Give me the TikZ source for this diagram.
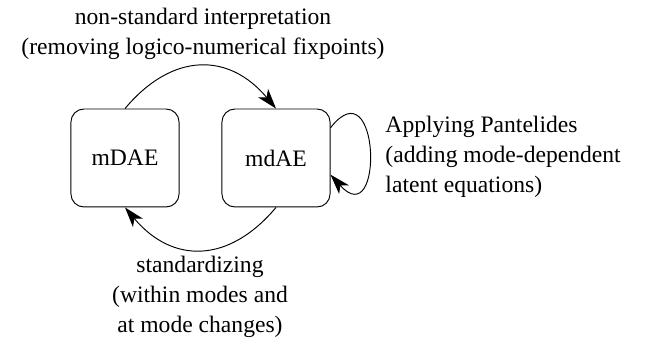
\documentclass[tikz,border=0pt]{standalone}
\usepackage{fontspec}
\setmainfont{Liberation Serif}
\usetikzlibrary{arrows.meta}

\begin{document}
\begin{tikzpicture}[
    x=0.4237pt,
    y=-0.4237pt,
    >={Stealth[length=8.5pt,width=5.5pt,inset=2.3pt]},
    model/.style={
      draw,
      rounded corners=5.5pt,
      minimum width=45.8pt,
      minimum height=41.5pt,
      inner sep=0pt
    },
    transform/.style={
      ->,
      looseness=1.25
    },
    comment/.style={
      inner sep=0pt,
      font=\fontsize{10}{12.6}\selectfont
    }
  ]
    \useasboundingbox (0,0) rectangle (651,341);

    \node[model] (mDAE) at (125,158) {mDAE};
    \node[model] (mdAE) at (276,158) {mdAE};

    \draw[transform] (mDAE.north) to[bend left=50] (mdAE.north);
    \draw[transform] (mdAE.south) to[bend left=50] (mDAE.south);
    \draw[transform] (mdAE.29) to[out=52,in=-48,looseness=4.4] (mdAE.-17);

    \node[comment,align=center,anchor=north] (nonstd) at (203,7.7)
      {non-standard interpretation\\(removing logico-numerical fixpoints)};
    \node[comment,align=left,anchor=north west] (pantelides) at (385,116)
      {Applying Pantelides\\(adding mode-dependent\\latent equations)};
    \node[comment,align=center,anchor=north] (standard) at (200,256)
      {standardizing\\(within modes and\\at mode changes)};
  \end{tikzpicture}
\end{document}
